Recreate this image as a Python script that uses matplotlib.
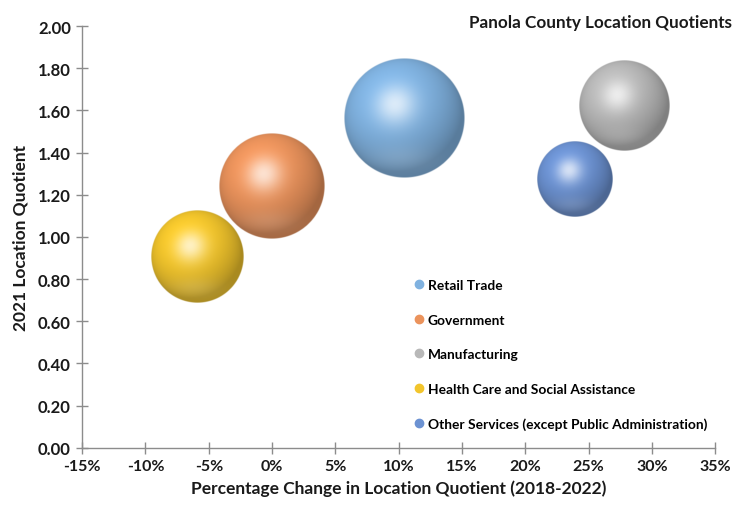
import numpy as np
import matplotlib
matplotlib.use("Agg")
import matplotlib.pyplot as plt
from matplotlib.lines import Line2D
from matplotlib.ticker import FuncFormatter

plt.rcParams["font.family"] = ["Lato", "DejaVu Sans"]
plt.rcParams["font.weight"] = "bold"

# data
industries = ["Retail Trade", "Government", "Manufacturing",
              "Health Care and Social Assistance",
              "Other Services (except Public Administration)"]
pct_change = [10.4, 0.0, 27.8, -5.9, 23.9]        # % change in LQ 2018-2022
lq_2021 = [1.565, 1.24, 1.62, 0.905, 1.275]
bubble_size = [3600, 2800, 2030, 2120, 1440]      # relative bubble size (area)
colors = ["#80b2e0", "#eb935c", "#b8b8b8", "#f2c52c", "#6c92d2"]

x_ticks = list(range(-15, 40, 5))
y_ticks = [i * 0.2 for i in range(11)]


def sphere(color, n=240):
    base = np.array(matplotlib.colors.to_rgb(color))
    u = np.linspace(-1, 1, n)
    X, Y = np.meshgrid(u, -u)
    r = np.sqrt(X ** 2 + Y ** 2)
    Z = np.sqrt(np.clip(1 - r ** 2, 0, 1))
    L = np.array([-0.3, 0.45, 0.84])
    L /= np.linalg.norm(L)
    diff = np.clip(X * L[0] + Y * L[1] + Z * L[2], 0, 1)
    H = L + np.array([0, 0, 1.0])
    H /= np.linalg.norm(H)
    spec = np.clip(X * H[0] + Y * H[1] + Z * H[2], 0, 1) ** 18
    # soft reflected light near the bottom edge
    refl = np.exp(-((Y + 0.68) ** 2) / 0.05) * np.exp(-((X + 0.05) ** 2) / 0.3) * 0.12
    shade = 0.7 + 0.36 * diff
    rgb = base[None, None, :] * shade[..., None]
    rgb = rgb + (1 - rgb) * (spec * 0.7 + refl)[..., None]
    rgb = np.clip(rgb, 0, 1)
    alpha = np.clip((1 - r) * n / 2.0, 0, 1)
    return np.dstack([rgb, alpha])


fig = plt.figure(figsize=(7.33, 5.10), dpi=100)
ax = fig.add_axes([0.112, 0.12, 0.864, 0.827])
ax.set_xlim(-15, 35)
ax.set_ylim(0, 2.0)

max_r = 60.0  # pixel radius of the biggest bubble
smax = max(bubble_size)
inv = ax.transData.inverted()
for x, y, s, c in zip(pct_change, lq_2021, bubble_size, colors):
    rpx = max_r * np.sqrt(s / smax)
    cx, cy = ax.transData.transform((x, y))
    (x0, y0) = inv.transform((cx - rpx, cy - rpx))
    (x1, y1) = inv.transform((cx + rpx, cy + rpx))
    ax.imshow(sphere(c), extent=[x0, x1, y0, y1], origin="upper",
              interpolation="bilinear", aspect="auto", zorder=3)

ax.set_xlim(-15, 35)
ax.set_ylim(0, 2.0)
ax.set_xticks(x_ticks)
ax.set_yticks(y_ticks)
ax.xaxis.set_major_formatter(FuncFormatter(lambda v, p: f"{v:.0f}%"))
ax.yaxis.set_major_formatter(FuncFormatter(lambda v, p: f"{v:.2f}"))

for side in ["top", "right"]:
    ax.spines[side].set_visible(False)
for side in ["left", "bottom"]:
    ax.spines[side].set_color("#8c8c8c")
    ax.spines[side].set_linewidth(1.0)
ax.tick_params(axis="both", direction="inout", length=8, width=1,
               color="#8c8c8c", labelcolor="#1a1a1a", pad=4)
ax.tick_params(axis="x", labelsize=11.5)
ax.tick_params(axis="y", labelsize=12)
for lab in ax.get_xticklabels() + ax.get_yticklabels():
    lab.set_fontweight("bold")

ax.set_xlabel("Percentage Change in Location Quotient (2018-2022)",
              fontsize=12.5, fontweight="bold", color="#1a1a1a", labelpad=5)
ax.set_ylabel("2021 Location Quotient", fontsize=12.5, fontweight="bold",
              color="#1a1a1a", labelpad=7)

fig.text(0.998, 0.955, "Panola County Location Quotients", ha="right",
         va="center", fontsize=12.3, fontweight="bold", color="#1a1a1a")

handles = [Line2D([], [], marker="o", linestyle="none", markersize=6,
                  markerfacecolor=c, markeredgecolor=c) for c in colors]
ax.legend(handles, industries, loc="upper left",
          bbox_to_anchor=(0.5, 0.43), frameon=False,
          labelspacing=1.65, handletextpad=0.1, handlelength=1.1,
          prop={"weight": "bold", "size": 9.9})

fig.savefig("out.png", dpi=100)
